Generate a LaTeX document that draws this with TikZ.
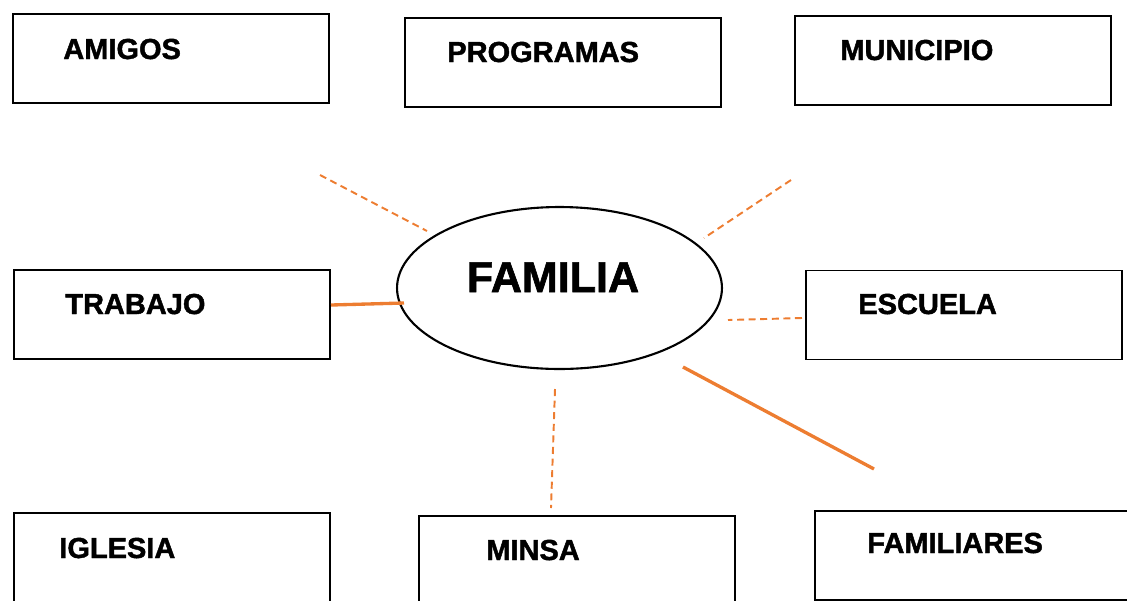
\documentclass[tikz,border=0pt]{standalone}
\usepackage{fontspec}
\setmainfont{Liberation Sans}[BoldFeatures={FakeBold=1.5}]
\usepackage{tikz}
\usetikzlibrary{shapes.geometric, calc}

\definecolor{naranja}{HTML}{ED7D31}

\begin{document}
\begin{tikzpicture}[x=0.02cm, y=-0.02cm,
    caja/.style={draw, line width=1.1pt, rectangle, minimum width=6.32cm, minimum height=1.78cm, inner sep=0pt},
    rotulo/.style={anchor=base west, inner sep=0pt, font=\fontsize{16.5}{20}\selectfont\bfseries},
    punteado/.style={naranja, line width=1.1pt, dash pattern=on 4pt off 2.6pt},
    solido/.style={naranja, line width=1.9pt},
]
  \useasboundingbox (0,0) rectangle (1127,600);
  \clip (0,0) rectangle (1127,600);

  % Central ellipse
  \node[draw, ellipse, line width=1.2pt, minimum width=6.5cm, minimum height=3.24cm, inner sep=0pt] (familia) at (559.5,288) {};
  \node[anchor=base, inner sep=0pt, font=\fontsize{24.5}{28}\selectfont\bfseries] (familia-txt) at (553,292) {FAMILIA};

  % Boxes with their labels
  \foreach \name/\x/\y/\tx/\ty/\txt in {amigos/171/58.5/63/59/AMIGOS,
      programas/563/62.5/447/62/PROGRAMAS, municipio/953/60.5/840/60/MUNICIPIO,
      trabajo/172/314.5/65/314/TRABAJO, escuela/964/315/858/314/ESCUELA,
      iglesia/172/557.5/59/558/IGLESIA, minsa/577/560.5/486/560/MINSA,
      familiares/973/555.5/867/553/FAMILIARES} {
      \node[caja] (\name) at (\x,\y) {};
      \node[rotulo] (\name-txt) at (\tx,\ty) {\txt};
  }

  % Line ends
  \coordinate (amigos-a) at (320,175);
  \coordinate (amigos-b) at (427,231);
  \coordinate (municipio-a) at (791,180);
  \coordinate (municipio-b) at (704,238);
  \coordinate (trabajo-a) at (331,305);
  \coordinate (trabajo-b) at (404,303);
  \coordinate (escuela-a) at (802,318);
  \coordinate (escuela-b) at (728,320);
  \coordinate (minsa-a) at (555,389);
  \coordinate (minsa-b) at (551,508);
  \coordinate (familiares-a) at (683,367);
  \coordinate (familiares-b) at (874,469);

  % Connectors
  \draw[punteado] (amigos-a) -- (amigos-b);
  \draw[punteado] (municipio-a) -- (municipio-b);
  \draw[solido] (trabajo-a) -- (trabajo-b);
  \draw[punteado] (escuela-a) -- (escuela-b);
  \draw[punteado] (minsa-a) -- (minsa-b);
  \draw[solido] (familiares-a) -- (familiares-b);
\end{tikzpicture}
\end{document}
